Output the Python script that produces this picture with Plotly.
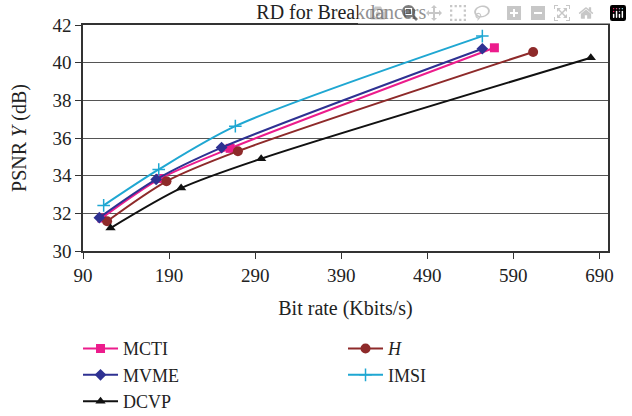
import plotly.graph_objects as go

# Data
mcti_x = [112, 180, 261, 568]
mcti_y = [31.75, 33.85, 35.45, 40.79]
mvme_x = [109, 175, 251, 554]
mvme_y = [31.77, 33.80, 35.49, 40.74]
dcvp_x = [122, 204, 297, 680]
dcvp_y = [31.22, 33.34, 34.90, 40.26]
h_x = [118, 187, 270, 613]
h_y = [31.58, 33.70, 35.30, 40.57]
imsi_x = [114, 178, 267, 554]
imsi_y = [32.42, 34.33, 36.63, 41.41]

x_ticks = [90, 190, 290, 390, 490, 590, 690]
y_ticks = [30, 32, 34, 36, 38, 40, 42]

FONT = "Liberation Serif"
TXT = "#222222"

series = [
    ("MCTI", mcti_x, mcti_y, "#EC1C8C", dict(symbol="square", size=9)),
    ("<i>H</i>", h_x, h_y, "#8E2A2A", dict(symbol="circle", size=10)),
    ("MVME", mvme_x, mvme_y, "#2E3192", dict(symbol="diamond", size=9)),
    ("IMSI", imsi_x, imsi_y, "#1FA7D2", dict(symbol="cross-thin", size=9, line=dict(width=1.5, color="#1FA7D2"))),
    ("DCVP", dcvp_x, dcvp_y, "#111111", dict(symbol="triangle-up", size=9)),
]

fig = go.Figure()
for name, xs, ys, col, mk in series:
    m = dict(color=col)
    m.update(mk)
    fig.add_trace(go.Scatter(
        x=xs, y=ys, name=name, mode="lines+markers",
        line=dict(color=col, width=2, shape="spline", smoothing=0.8),
        marker=m,
    ))

fig.update_layout(
    width=632, height=416,
    margin=dict(l=83, r=24, t=24.5, b=165.3, autoexpand=False),
    paper_bgcolor="white", plot_bgcolor="white",
    font=dict(family=FONT, size=19, color=TXT),
    title=dict(text="RD for Breakdancers", x=0.54, xanchor="center", xref="container",
               y=0.97, yanchor="middle", yref="container",
               font=dict(family=FONT, size=20, color=TXT)),
    showlegend=True,
    legend=dict(orientation="h", x=-0.0095, xanchor="left",
                y=-0.3506, yanchor="top",
                entrywidth=215, entrywidthmode="pixels", itemwidth=35,
                font=dict(family=FONT, size=18, color=TXT),
                bgcolor="rgba(0,0,0,0)", borderwidth=0),
)

fig.update_xaxes(
    range=[90, 700], tickmode="array", tickvals=x_ticks, ticktext=[str(v) for v in x_ticks],
    showline=True, linecolor="#333333", linewidth=1.5, mirror=True,
    ticks="outside", ticklen=6, tickcolor="#333333", showgrid=False, zeroline=False,
    title=dict(text="Bit rate (Kbits/s)", font=dict(family=FONT, size=20), standoff=16),
    tickfont=dict(family=FONT, size=19),
)
fig.update_yaxes(
    range=[30, 42], tickmode="array", tickvals=y_ticks, ticktext=[str(v) for v in y_ticks],
    showline=True, linecolor="#333333", linewidth=1.5, mirror=True,
    ticks="outside", ticklen=6, tickcolor="#333333",
    showgrid=True, gridcolor="#555555", gridwidth=1, zeroline=False,
    title=dict(text="PSNR <i>Y</i> (dB)", font=dict(family=FONT, size=20), standoff=20),
    tickfont=dict(family=FONT, size=19),
)

# Remove the browser's default 8px body margin so the figure sits at the page origin.
fig.write_html("out.html", post_script="document.body.style.margin = '0px';")
